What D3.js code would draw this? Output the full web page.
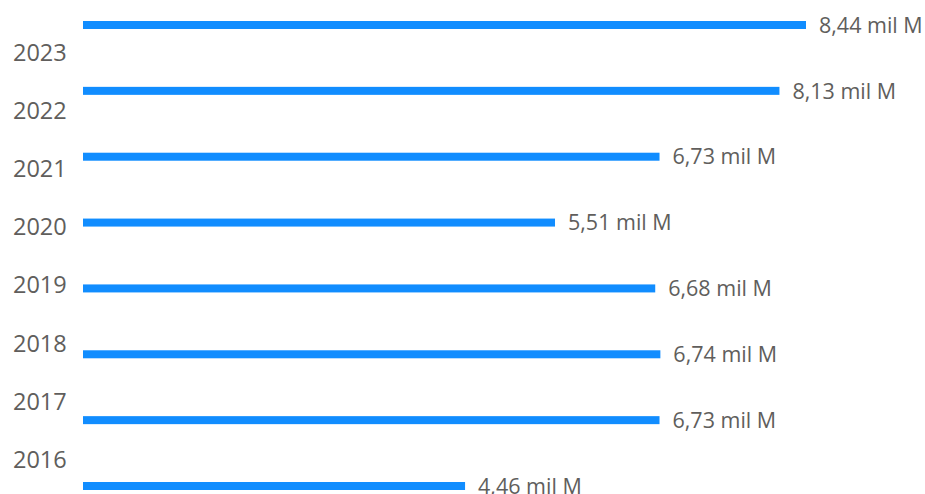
<!DOCTYPE html>
<html>
<head>
<meta charset="utf-8">
<script src="https://cdn.jsdelivr.net/npm/d3@7"></script>
<style>
  html, body { margin: 0; padding: 0; background: #ffffff; }
  svg { display: block; }
  .year text { font-family: "Open Sans", "Noto Sans", sans-serif; font-size: 23.5px; fill: #605E5C; }
  .val { font-family: "Open Sans", "Noto Sans", sans-serif; font-size: 21.5px; fill: #605E5C; }
</style>
</head>
<body>
<svg id="chart" width="925" height="494"></svg>
<script>
const years = ["2023", "2022", "2021", "2020", "2019", "2018", "2017", "2016"];
const values = [8.44, 8.13, 6.73, 5.51, 6.68, 6.74, 6.73, 4.46]; // mil M
const unitSuffix = " mil M";

const svg = d3.select("#chart");

const x = d3.scaleLinear().domain([0, d3.max(values)]).range([83, 806]);
// bar rows
const yBar = d3.scalePoint().domain(years).range([25, 486]);
// category labels (offset from bars in the reference)
const yLab = d3.scalePoint().domain(years).range([51.7, 459]);

const loc = d3.formatLocale({ decimal: ",", thousands: ".", grouping: [3], currency: ["", ""] });
const fmt = loc.format(".2f");

const barH = 8;
const data = years.map((y, i) => ({ year: y, value: values[i] }));

svg.append("g").selectAll("rect").data(data).join("rect")
  .attr("x", x(0))
  .attr("y", d => yBar(d.year) - barH / 2)
  .attr("width", d => x(d.value) - x(0))
  .attr("height", barH)
  .attr("fill", "#118DFF");

svg.append("g").selectAll("text").data(data).join("text")
  .attr("class", "val")
  .attr("x", d => x(d.value) + 13)
  .attr("y", d => yBar(d.year))
  .attr("dy", "0.36em")
  .text(d => fmt(d.value) + unitSuffix);

const axis = d3.axisLeft(yLab).tickSize(0).tickPadding(0);
const gAx = svg.append("g").attr("class", "year").attr("transform", "translate(13,0)").call(axis);
gAx.select(".domain").remove();
gAx.selectAll(".tick text")
  .attr("text-anchor", "start")
  .attr("x", 0)
  .attr("dy", "0.36em");
</script>
</body>
</html>
